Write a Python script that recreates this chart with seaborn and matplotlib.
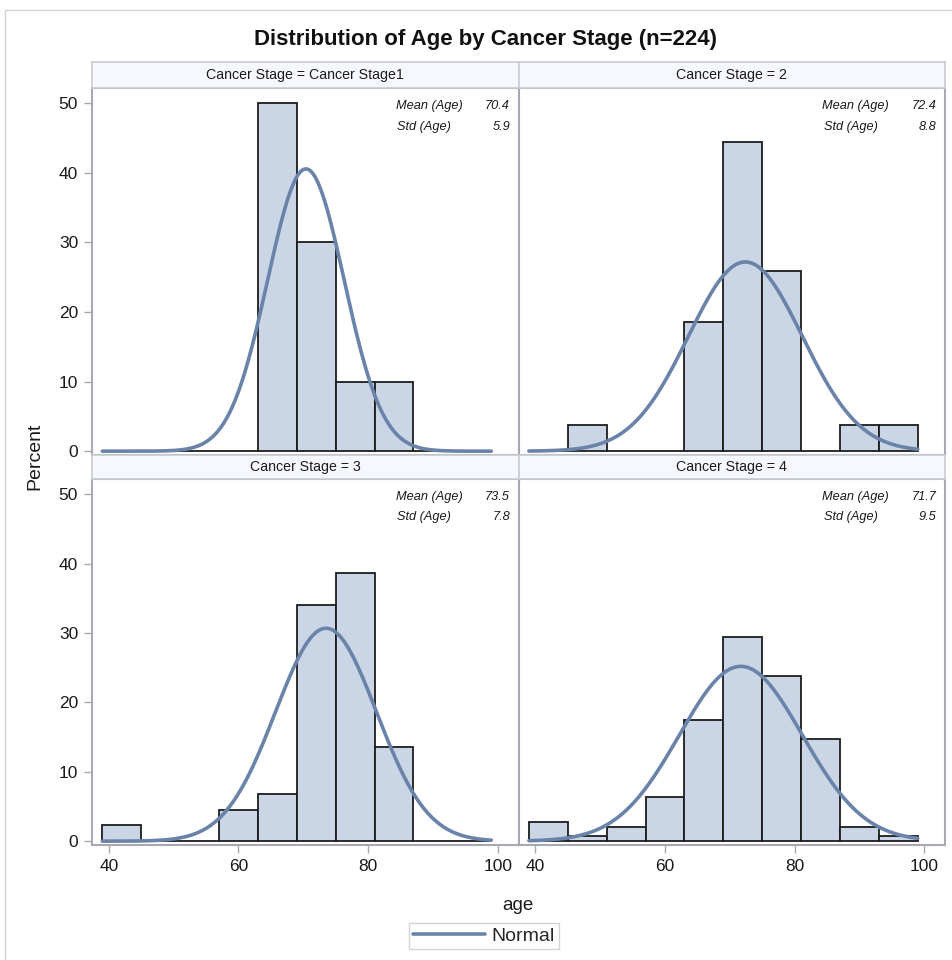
import numpy as np
import pandas as pd
import seaborn as sns
import matplotlib
matplotlib.use("Agg")
import matplotlib.pyplot as plt
from matplotlib.patches import Rectangle
from matplotlib.lines import Line2D

# ---------------- data ----------------
bin_edges = [39, 45, 51, 57, 63, 69, 75, 81, 87, 93, 99]
bin_centers = [42, 48, 54, 60, 66, 72, 78, 84, 90, 96]
stage_titles = ["Cancer Stage = Cancer Stage1", "Cancer Stage = 2",
                "Cancer Stage = 3", "Cancer Stage = 4"]
pct_stage1 = [0, 0, 0, 0, 50.0, 30.0, 10.0, 10.0, 0, 0]
pct_stage2 = [0, 3.7, 0, 0, 18.5, 44.4, 25.9, 0, 3.7, 3.7]
pct_stage3 = [2.3, 0, 0, 4.5, 6.8, 34.1, 38.6, 13.6, 0, 0]
pct_stage4 = [2.8, 0.7, 2.1, 6.3, 17.5, 29.4, 23.8, 14.7, 2.1, 0.7]
mean_age = [70.4, 72.4, 73.5, 71.7]
std_age = [5.9, 8.8, 7.8, 9.5]
x_ticks = [40, 60, 80, 100]
y_ticks = [0, 10, 20, 30, 40, 50]

all_pct = [pct_stage1, pct_stage2, pct_stage3, pct_stage4]

# ---------------- style ----------------
sns.set_style("white")
plt.rcParams["font.family"] = ["Liberation Sans", "DejaVu Sans"]

W, H = 952, 960
fig = plt.figure(figsize=(W / 100, H / 100), dpi=100)

BAR_FILL = "#cad5e5"
CURVE = "#6a83a8"
SPINE = "#a6aab0"
TXT = "#1a1a1a"

# outer border (top and left edges visible)
fig.patches.append(Rectangle((5 / W, -0.01), 1.0, 1 - 10 / H + 0.01,
                             transform=fig.transFigure, fill=False,
                             edgecolor="#d4d4d4", linewidth=1.0))

def px_rect(x0, y0, x1, y1):
    return [x0 / W, 1 - y1 / H, (x1 - x0) / W, (y1 - y0) / H]

cols = [(92, 518.5), (518.5, 945)]
rows = [(88, 455), (479, 845)]
strips = [(62, 88), (455, 479)]

for i in range(4):
    r, c = divmod(i, 2)
    x0, x1 = cols[c]
    y0, y1 = rows[r]
    ax = fig.add_axes(px_rect(x0, y0, x1, y1))
    df = pd.DataFrame({"age": bin_centers, "pct": all_pct[i]})
    sns.histplot(data=df, x="age", weights="pct", bins=bin_edges, ax=ax,
                 stat="count", color=BAR_FILL, alpha=1.0,
                 edgecolor="#1c1c1c", linewidth=1.3)
    # fitted normal curve (percent scale)
    xs = np.linspace(bin_edges[0], bin_edges[-1], 300)
    bw = bin_edges[1] - bin_edges[0]
    ys = 100 * bw * np.exp(-0.5 * ((xs - mean_age[i]) / std_age[i]) ** 2) / (std_age[i] * np.sqrt(2 * np.pi))
    sns.lineplot(x=xs, y=ys, ax=ax, color=CURVE, linewidth=2.6)

    ax.set_xlim(37.4, 103.2)
    ax.set_ylim(-0.55, 52.2)
    ax.set_xticks(x_ticks)
    ax.set_yticks(y_ticks)
    ax.set_xlabel("")
    ax.set_ylabel("")
    for s in ax.spines.values():
        s.set_color(SPINE)
        s.set_linewidth(1.5)
    ax.tick_params(axis="both", colors=SPINE, labelcolor=TXT, labelsize=12.5,
                   length=6, width=1.0, direction="out", pad=4)
    if c == 0:
        ax.tick_params(axis="y", left=True, labelleft=True)
    else:
        ax.tick_params(axis="y", left=False, labelleft=False)
    if r == 1:
        ax.tick_params(axis="x", bottom=True, labelbottom=True)
    else:
        ax.tick_params(axis="x", bottom=False, labelbottom=False)

    # stats inset
    fs = 9.2
    ax.text(0.712, 0.95, "Mean (Age)", transform=ax.transAxes, ha="left",
            va="center", fontsize=fs, style="italic", color=TXT)
    ax.text(0.98, 0.95, f"{mean_age[i]:.1f}", transform=ax.transAxes,
            ha="right", va="center", fontsize=fs, style="italic", color=TXT)
    ax.text(0.716, 0.895, "Std (Age)", transform=ax.transAxes, ha="left",
            va="center", fontsize=fs, style="italic", color=TXT)
    ax.text(0.98, 0.895, f"{std_age[i]:.1f}", transform=ax.transAxes,
            ha="right", va="center", fontsize=fs, style="italic", color=TXT)

    # strip header
    sy0, sy1 = strips[r]
    sax = fig.add_axes(px_rect(x0, sy0, x1, sy1))
    sax.set_facecolor("#f6f8fe")
    sax.set_xticks([])
    sax.set_yticks([])
    for s in sax.spines.values():
        s.set_color("#c8ccd2")
        s.set_linewidth(1.2)
    sax.text(0.5, 0.5, stage_titles[i], ha="center", va="center",
             fontsize=10.2, color=TXT, transform=sax.transAxes)

fig.text(486 / W, 1 - 40 / H, "Distribution of Age by Cancer Stage (n=224)",
         ha="center", va="center", fontsize=16, fontweight="bold", color="#111111")
fig.text(518 / W, 1 - 906 / H, "age", ha="center", va="center", fontsize=13.5, color=TXT)
fig.text(35 / W, 1 - 456 / H, "Percent", ha="center", va="center", fontsize=14,
         rotation=90, color=TXT)

# legend
leg_handle = Line2D([], [], color=CURVE, linewidth=2.6)
fig.legend([leg_handle], ["Normal"], loc="center", bbox_to_anchor=(484 / W, 1 - 936 / H),
           frameon=True, fancybox=False, edgecolor="#c8c8c8", fontsize=14,
           handlelength=3.7, borderpad=0.2, handletextpad=0.35, borderaxespad=0)

fig.savefig("out.png", dpi=100)
